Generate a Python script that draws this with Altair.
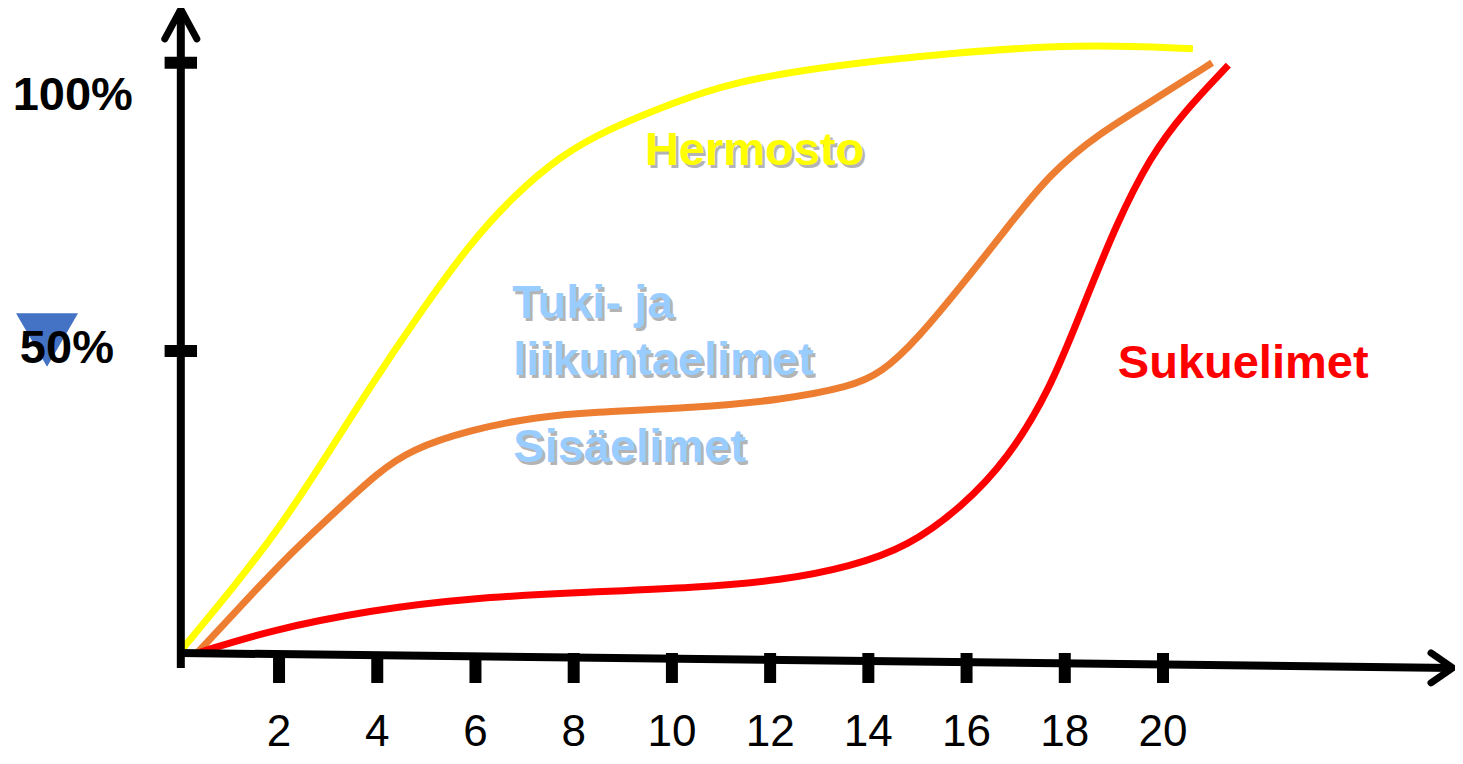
import altair as alt
import pandas as pd

# ---- data (x = age in years, y = % of adult size) ----
herm_x = [0.0, 1.14, 2.02, 2.83, 3.85, 4.87, 5.89, 6.77, 7.70, 8.66, 10.08, 11.2, 13.01, 15.66, 18.31, 20.61]
herm_y = [0.2, 11.7, 21.3, 31.5, 45.1, 57.7, 69.5, 77.5, 84.2, 88.8, 93.6, 96.8, 99.5, 101.9, 103.4, 102.6]

tuki_x = [0.35, 1.14, 2.16, 3.18, 4.00, 4.67, 5.89, 7.25, 8.33, 10.45, 12.26, 13.63, 14.26, 14.99, 15.99, 16.68, 17.70, 18.72, 19.74, 21.00]
tuki_y = [0.0, 7.1, 16.2, 24.1, 30.4, 34.4, 37.8, 40.0, 40.8, 41.5, 42.9, 45.1, 47.4, 53.1, 63.3, 70.6, 81.5, 88.3, 93.5, 100.2]

suku_x = [0.40, 1.82, 3.85, 5.89, 8.33, 10.45, 12.26, 13.63, 14.81, 15.91, 16.83, 17.70, 18.37, 19.06, 19.74, 20.41, 21.33]
suku_y = [0.0, 3.7, 7.1, 9.2, 10.2, 10.9, 12.2, 14.5, 17.9, 24.7, 32.7, 44.6, 58.7, 73.0, 84.2, 91.7, 99.8]

xtick_values = [2, 4, 6, 8, 10, 12, 14, 16, 18, 20]
ytick_values = [51.2, 100.2]
ytick_labels = ["50%", "100%"]
ylabel_x = [-2.32, -2.20]
ylabel_y = [49.15, 92.2]

# hand-drawn axis lines (start / end points)
xaxis_x = [0.0, 25.9]
xaxis_y = [-0.17, -2.7]
yaxis_x = [0.0, 0.0]
yaxis_y = [-2.7, 109.3]

label_text = ["Hermosto", "Tuki- ja", "liikuntaelimet", "Sisäelimet", "Sukuelimet"]
label_x = [9.45, 6.75, 6.77, 6.77, 19.08]
label_y = [82.8, 56.8, 47.1, 32.3, 46.6]
label_col = ["#FFFF00", "#99CCFF", "#99CCFF", "#99CCFF", "#FF0000"]
label_shadow = [True, True, True, True, False]

marker_x = [-2.724]
marker_y = [53.06]

# ---- scales ----
XS = alt.Scale(domain=[-3.519, 25.946], nice=False, zero=False)
YS = alt.Scale(domain=[-17.687, 109.524], nice=False, zero=False)


def X(field="x"):
    return alt.X(f"{field}:Q", scale=XS, axis=None)


def Y(field="y"):
    return alt.Y(f"{field}:Q", scale=YS, axis=None)


def line(xs, ys, color):
    df = pd.DataFrame({"x": xs, "y": ys, "o": range(len(xs))})
    return alt.Chart(df).mark_line(
        interpolate="basis", strokeWidth=7, color=color, strokeCap="butt"
    ).encode(x=X(), y=Y(), order="o:Q")


xaxis = alt.Chart(pd.DataFrame({"x": xaxis_x, "y": xaxis_y})).mark_line(
    color="black", strokeWidth=8
).encode(x=X(), y=Y())
yaxis = alt.Chart(pd.DataFrame({"x": yaxis_x, "y": yaxis_y})).mark_line(
    color="black", strokeWidth=8
).encode(x=X(), y=Y())

xarrow = alt.Chart(pd.DataFrame({"x": [xaxis_x[1]], "y": [xaxis_y[1]]})).mark_point(
    shape="M -1.45 -1 L 0 0 L -1.45 1", size=900, filled=False, color="black",
    strokeWidth=7, strokeCap="round", strokeJoin="miter", opacity=1
).encode(x=X(), y=Y())
yarrow = alt.Chart(pd.DataFrame({"x": [yaxis_x[1]], "y": [yaxis_y[1]]})).mark_point(
    shape="M -1 1.85 L 0 0 L 1 1.85", size=1024, filled=False, color="black",
    strokeWidth=7, strokeCap="round", strokeJoin="miter", opacity=1
).encode(x=X(), y=Y())

xticks_df = pd.DataFrame({"x": xtick_values, "y": [-0.17] * len(xtick_values),
                          "y2": [-5.27] * len(xtick_values),
                          "lab": [str(v) for v in xtick_values],
                          "ly": [-16.05] * len(xtick_values)})
xticks = alt.Chart(xticks_df).mark_rule(color="black", strokeWidth=12).encode(
    x=X(), y=Y(), y2="y2:Q")
xlabels = alt.Chart(xticks_df).mark_text(
    font="Liberation Sans", fontSize=44, color="black", align="center", baseline="alphabetic"
).encode(x=X(), y=Y("ly"), text="lab:N")

yticks_df = pd.DataFrame({"y": ytick_values, "x": [-0.33] * 2, "x2": [0.33] * 2,
                          "lab": ytick_labels, "lx": ylabel_x, "ly": ylabel_y})
yticks = alt.Chart(yticks_df).mark_rule(color="black", strokeWidth=12).encode(
    x=X(), x2="x2:Q", y=Y())

marker = alt.Chart(pd.DataFrame({"x": marker_x, "y": marker_y})).mark_point(
    shape="triangle-down", size=3844, filled=True, color="#4472C4", opacity=1, strokeWidth=0
).encode(x=X(), y=Y())

ylabels = alt.Chart(yticks_df).mark_text(
    font="Liberation Sans", fontSize=47, fontWeight="bold", color="black",
    align="center", baseline="alphabetic"
).encode(x=X("lx"), y=Y("ly"), text="lab:N")

labels_df = pd.DataFrame({"x": label_x, "y": label_y, "t": label_text,
                          "c": label_col, "s": label_shadow})
shadow = alt.Chart(labels_df[labels_df["s"]]).mark_text(
    font="Liberation Sans", fontSize=47, fontWeight="bold", color="#B4B4B4",
    align="left", baseline="alphabetic", dx=2.5, dy=2.5
).encode(x=X(), y=Y(), text="t:N")
labels = alt.Chart(labels_df).mark_text(
    font="Liberation Sans", fontSize=47, fontWeight="bold",
    align="left", baseline="alphabetic"
).encode(x=X(), y=Y(), text="t:N", color=alt.Color("c:N", scale=None))

chart = alt.layer(
    line(herm_x, herm_y, "#FFFF00"),
    line(tuki_x, tuki_y, "#ED7D31"),
    line(suku_x, suku_y, "#FF0000"),
    xaxis, yaxis, xarrow, yarrow, xticks, yticks, xlabels,
    marker, ylabels, shadow, labels,
).properties(
    width=1447, height=748, padding=0,
    autosize=alt.AutoSizeParams(type="none"),
    background="white",
).configure_view(stroke=None)

chart.save("out.html", embed_options={"renderer": "svg", "actions": False})
